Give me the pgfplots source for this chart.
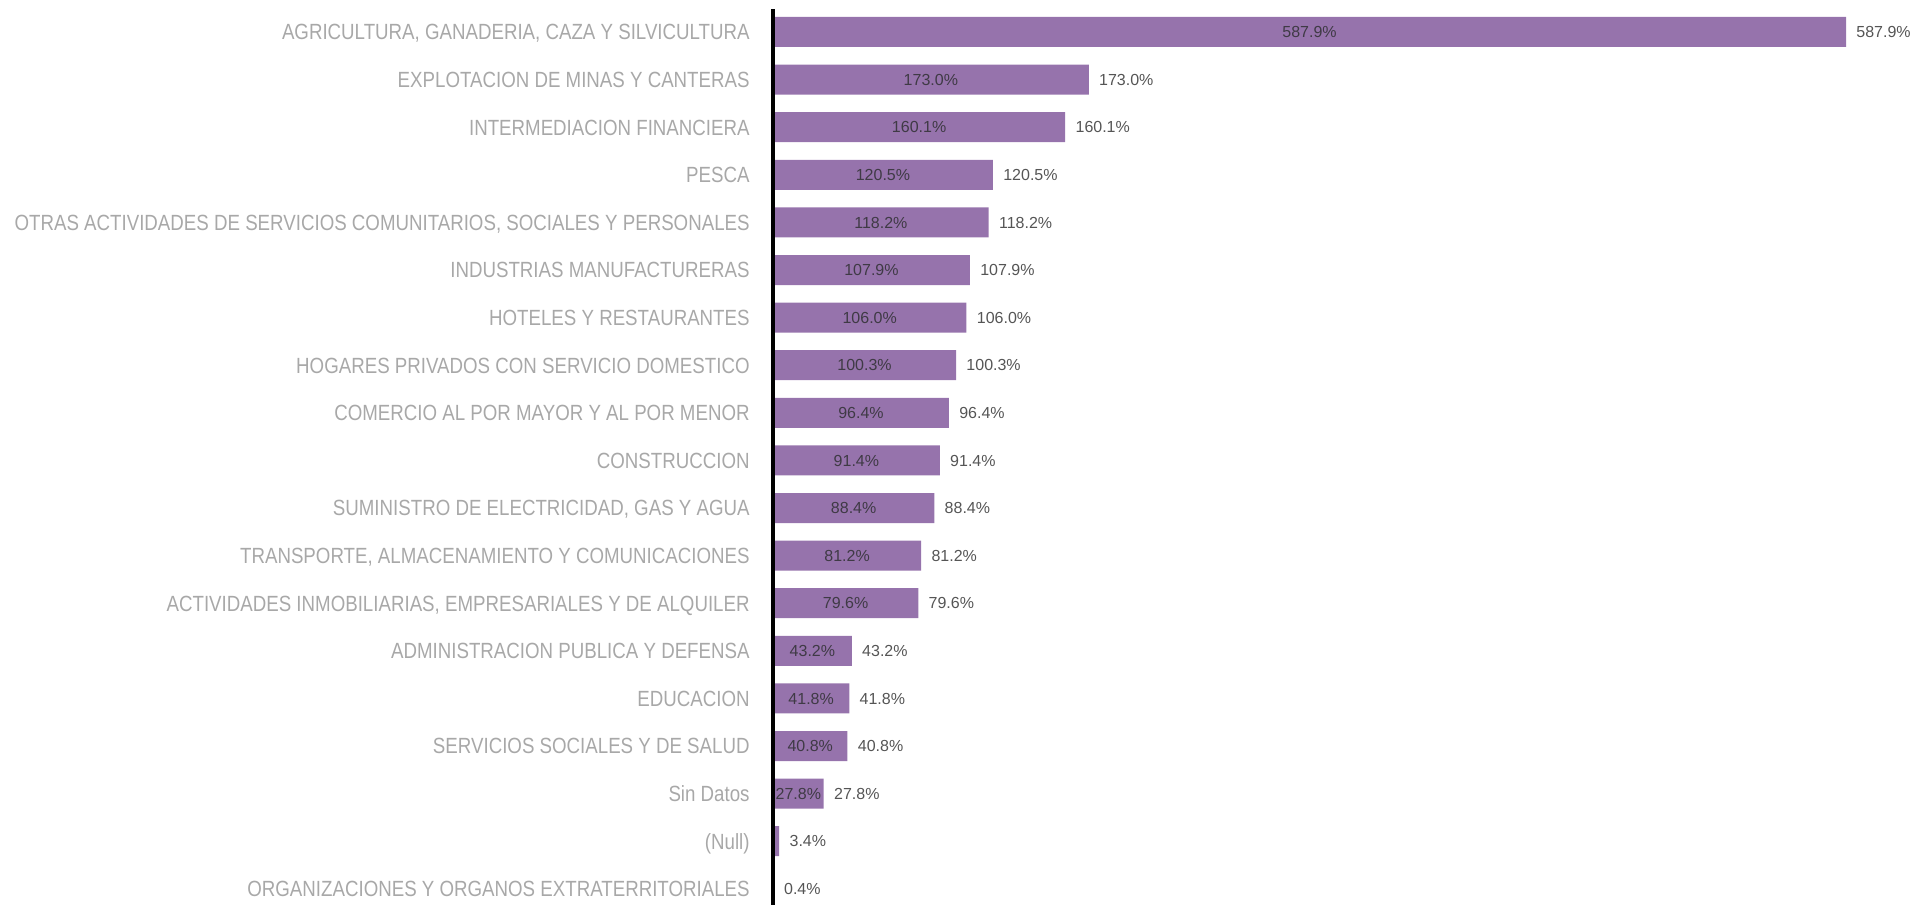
\documentclass[border=0pt]{standalone}
\usepackage{pgfplots}
\pgfplotsset{compat=1.18}
\usepackage{pgfplotstable}
\usepackage{fontspec}
\setmainfont{Liberation Sans}
\newfontfamily\labfont[FakeStretch=0.85]{Liberation Sans}
\definecolor{barc}{HTML}{9673AC}
\definecolor{labc}{HTML}{A8A8A8}
\definecolor{inc}{HTML}{3F3A45}
\definecolor{outc}{HTML}{555555}

\pgfplotstableread{
i v
0 587.9
1 173.0
2 160.1
3 120.5
4 118.2
5 107.9
6 106.0
7 100.3
8 96.4
9 91.4
10 88.4
11 81.2
12 79.6
13 43.2
14 41.8
15 40.8
16 27.8
17 3.4
18 0.4
}\data

\begin{document}
\begin{tikzpicture}
\path[use as bounding box] (0,0) rectangle (960.5pt,452.5pt);
\begin{axis}[
 at={(386.5pt,0pt)}, anchor=south west,
 width=574pt, height=448pt, scale only axis,
 xmin=0, xmax=629, ymin=-0.483, ymax=18.34, y dir=reverse,
 hide x axis, axis y line*=left,
 y axis line style={-, line width=2.2pt, black},
 ytick={0,...,18},
 yticklabels={
  {AGRICULTURA, GANADERIA, CAZA Y SILVICULTURA},
  {EXPLOTACION DE MINAS Y CANTERAS},
  {INTERMEDIACION FINANCIERA},
  {PESCA},
  {OTRAS ACTIVIDADES DE SERVICIOS COMUNITARIOS, SOCIALES Y PERSONALES},
  {INDUSTRIAS MANUFACTURERAS},
  {HOTELES Y RESTAURANTES},
  {HOGARES PRIVADOS CON SERVICIO DOMESTICO},
  {COMERCIO AL POR MAYOR Y AL POR MENOR},
  {CONSTRUCCION},
  {SUMINISTRO DE ELECTRICIDAD, GAS Y AGUA},
  {TRANSPORTE, ALMACENAMIENTO Y COMUNICACIONES},
  {ACTIVIDADES INMOBILIARIAS, EMPRESARIALES Y DE ALQUILER},
  {ADMINISTRACION PUBLICA Y DEFENSA},
  {EDUCACION},
  {SERVICIOS SOCIALES Y DE SALUD},
  {Sin Datos},
  {(Null)},
  {ORGANIZACIONES Y ORGANOS EXTRATERRITORIALES}},
 major tick length=0pt,
 yticklabel style={anchor=east, inner sep=0pt, xshift=-11.5pt, text=labc,
   font=\labfont\fontsize{11}{12}\selectfont, text height=7.9pt, text depth=0pt},
 /pgf/number format/assume math mode=true,
 axis on top,
 clip=false,
]
\addplot[xbar, bar width=15pt, bar shift=0pt, fill=barc, draw=none,
 nodes near coords={\pgfmathprintnumber[fixed,fixed zerofill,precision=1]{\pgfplotspointmeta}\%},
 point meta=x,
 nodes near coords style={anchor=west, inner sep=0pt, xshift=5pt, text=outc,
   font=\fontsize{8}{9}\selectfont, text height=5.7pt, text depth=0pt}]
 table[x=v, y=i]{\data};
\addplot[draw=none, mark=none,
 nodes near coords={\pgfmathprintnumber[fixed,fixed zerofill,precision=1]{\pgfplotspointmeta}\%},
 point meta=explicit, skip coords between index={17}{19},
 nodes near coords style={anchor=center, inner sep=0pt, text=inc,
   font=\fontsize{8}{9}\selectfont, text height=5.7pt, text depth=0pt}]
 table[x expr=\thisrow{v}/2, y=i, meta=v]{\data};
\end{axis}
\end{tikzpicture}
\end{document}
